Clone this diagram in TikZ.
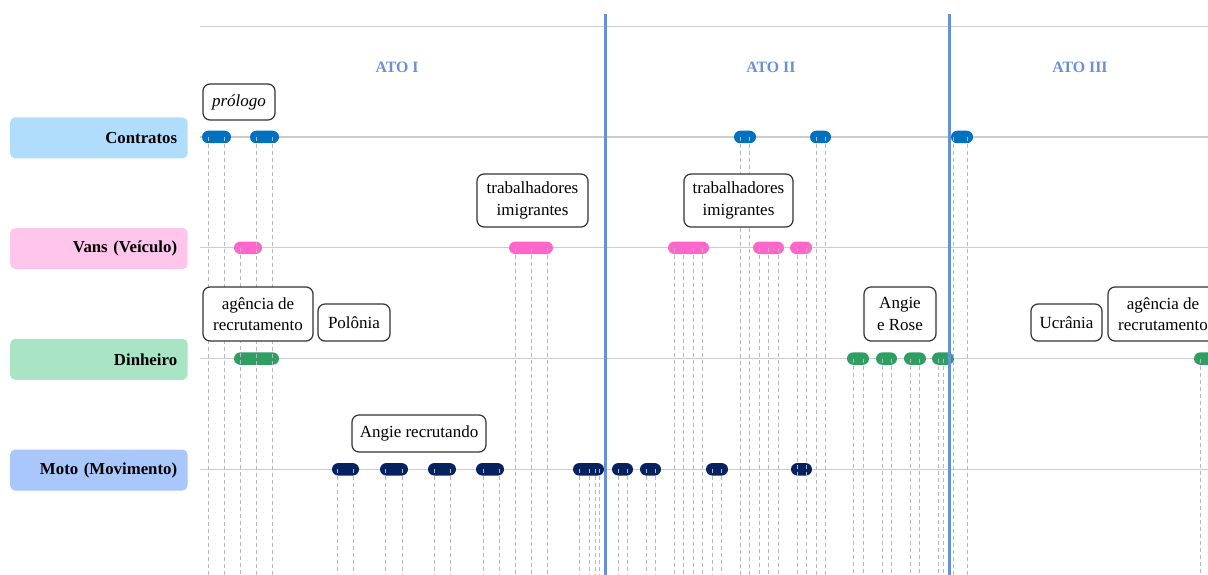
\documentclass[tikz,border=0pt]{standalone}
\usepackage{fontspec}
\setmainfont{Liberation Serif}
\definecolor{cblue}{HTML}{0070C0}
\definecolor{cpink}{HTML}{FF66CC}
\definecolor{cgreen}{HTML}{2F9E63}
\definecolor{cnavy}{HTML}{06215F}
\definecolor{lblue}{HTML}{B1DDFD}
\definecolor{lpink}{HTML}{FFC5EA}
\definecolor{lgreen}{HTML}{A9E4C5}
\definecolor{lnavy}{HTML}{AAC7FB}
\definecolor{actline}{HTML}{6690D8}
\definecolor{acttext}{HTML}{6C8ED4}
\definecolor{gridgray}{HTML}{CCCCCC}
\definecolor{dashgray}{HTML}{B8B8B8}
\definecolor{boxborder}{HTML}{333333}
\begin{document}
\begin{tikzpicture}[x=1pt,y=-1pt,
  rowlabel/.style={rounded corners=5pt, draw=none, minimum width=177.5, minimum height=41,
    inner xsep=10.5, inner ysep=0, text width=156.5, align=right,
    font=\fontsize{16.8}{19}\selectfont\bfseries, text=black},
  pill/.style={fill=#1, draw=none, rounded corners=6.25pt, minimum height=12.5, inner sep=0},
  dline/.style={draw=dashgray, line width=1pt, dash pattern=on 4pt off 3pt},
  rowline/.style={draw=gridgray, line width=1.2pt},
  actbar/.style={draw=actline, line width=3pt},
  acttitle/.style={text=acttext, font=\fontsize{15.8}{18}\selectfont\bfseries},
  note/.style={draw=boxborder, fill=white, line width=1.2pt, rounded corners=7pt, inner sep=0,
    align=center, font=\fontsize{17}{21.5}\selectfont}
]
\useasboundingbox (0,0) rectangle (1208,575);
\clip (0,0) rectangle (1208,575);

% top rule and row lines
\coordinate (topL) at (200,26.3);
\coordinate (topR) at (1208,26.3);
\draw[rowline] (topL) -- (topR);
\foreach \r/\y in {c/137,v/247.8,d/358.6,m/469.3}{
  \coordinate (\r L) at (200,\y);
  \coordinate (\r R) at (1208,\y);
  \draw[rowline] (\r L) -- (\r R);
}

% row labels
\node[rowlabel, fill=lblue] (labC) at (98.9,137.9) {Contratos};
\node[rowlabel, fill=lpink] (labV) at (98.9,248.5) {Vans (Veículo)};
\node[rowlabel, fill=lgreen] (labD) at (98.9,359.3) {Dinheiro};
\node[rowlabel, fill=lnavy] (labM) at (98.9,470) {Moto (Movimento)};

% pills
\foreach \a/\b [count=\i] in {202/231,250/279,734/756,810/831,951/973}{
  \pgfmathsetmacro{\w}{\b-\a}\pgfmathsetmacro{\cx}{(\a+\b)/2}
  \node[pill=cblue, minimum width=\w] (pc\i) at (\cx,137) {};
}
\foreach \a/\b [count=\i] in {234/262,509/553,668/709,753/784,790/812}{
  \pgfmathsetmacro{\w}{\b-\a}\pgfmathsetmacro{\cx}{(\a+\b)/2}
  \node[pill=cpink, minimum width=\w] (pv\i) at (\cx,247.8) {};
}
\foreach \a/\b [count=\i] in {234/279,847/869,876/897,904/926,932/954,1194/1216}{
  \pgfmathsetmacro{\w}{\b-\a}\pgfmathsetmacro{\cx}{(\a+\b)/2}
  \node[pill=cgreen, minimum width=\w] (pd\i) at (\cx,358.6) {};
}
\foreach \a/\b [count=\i] in {332/359,380/408,428/456,476/504,573/604,612/633,640/661,706/728,791/812}{
  \pgfmathsetmacro{\w}{\b-\a}\pgfmathsetmacro{\cx}{(\a+\b)/2}
  \node[pill=cnavy, minimum width=\w] (pm\i) at (\cx,469.3) {};
}

% dashed drop lines
\foreach \x [count=\i] in {208,224,256,272,740,749,816,825,953,967}{
  \coordinate (dc\i a) at (\x,137); \coordinate (dc\i b) at (\x,575);
  \draw[dline] (dc\i a) -- (dc\i b);
}
\foreach \x [count=\i] in {240,515,531,547,674,683,693,702,759,768,778,797,806}{
  \coordinate (dv\i a) at (\x,247.8); \coordinate (dv\i b) at (\x,575);
  \draw[dline] (dv\i a) -- (dv\i b);
}
\foreach \x [count=\i] in {853,863,882,891,910,919,938,943,1200}{
  \coordinate (dd\i a) at (\x,358.6); \coordinate (dd\i b) at (\x,575);
  \draw[dline] (dd\i a) -- (dd\i b);
}
\foreach \x [count=\i] in {337,353,385,402,434,450,483,499,579,589,595,599,618,627,646,655,712,721}{
  \coordinate (dm\i a) at (\x,469.3); \coordinate (dm\i b) at (\x,575);
  \draw[dline] (dm\i a) -- (dm\i b);
}

% act separators
\coordinate (act1T) at (605,14); \coordinate (act1B) at (605,575);
\coordinate (act2T) at (949,14); \coordinate (act2B) at (949,575);
\draw[actbar] (act1T) -- (act1B);
\draw[actbar] (act2T) -- (act2B);

% act titles
\node[acttitle] (ato1) at (397,67) {ATO I};
\node[acttitle] (ato2) at (771,67) {ATO II};
\node[acttitle] (ato3) at (1080,67) {ATO III};

% annotations
\node[note, minimum width=72, minimum height=36] (prologo) at (239,102) {\itshape prólogo};
\node[note, minimum width=111, minimum height=53] (trab1) at (532.5,200.5) {trabalhadores\\imigrantes};
\node[note, minimum width=109, minimum height=53] (trab2) at (738.5,200.5) {trabalhadores\\imigrantes};
\node[note, minimum width=110, minimum height=54] (agen1) at (258,314) {agência de\\recrutamento};
\node[note, minimum width=72, minimum height=37] (polonia) at (354,322.5) {Polônia};
\node[note, minimum width=134, minimum height=37] (angrec) at (419,433.5) {Angie recrutando};
\node[note, minimum width=72, minimum height=54] (angrose) at (900,314) {Angie\\e Rose};
\node[note, minimum width=71, minimum height=37] (ucrania) at (1066.5,322.5) {Ucrânia};
\node[note, minimum width=110, minimum height=54] (agen2) at (1163,314) {agência de\\recrutamento};
\end{tikzpicture}
\end{document}
